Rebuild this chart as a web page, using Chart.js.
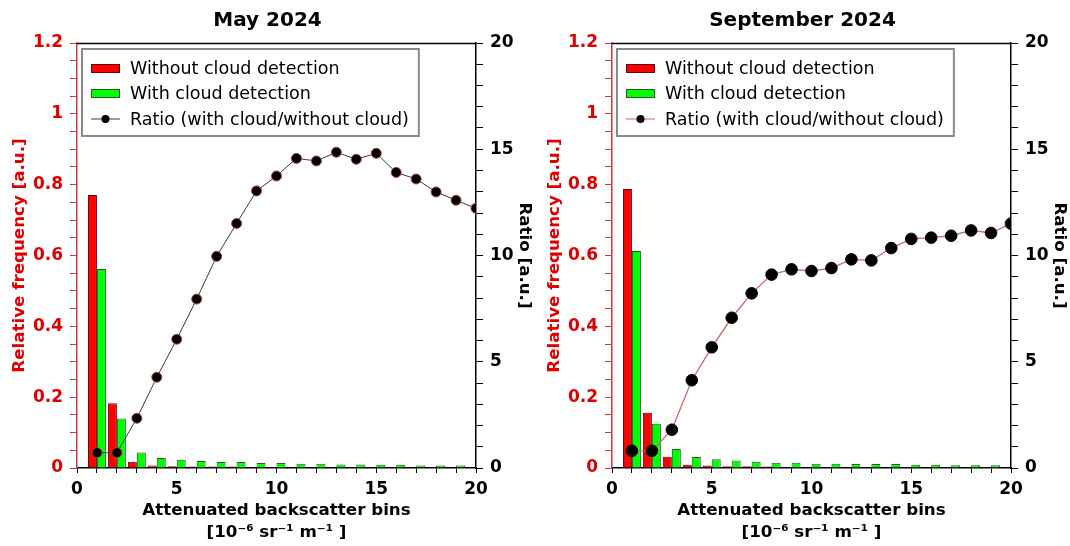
<!DOCTYPE html>
<html>
<head>
<meta charset="utf-8">
<script src="https://cdn.jsdelivr.net/npm/chart.js@4"></script>
<style>
  body { margin: 0; background: #fff; }
  .wrap { position: absolute; top: 0; width: 535px; height: 546px; }
</style>
</head>
<body>
<div class="wrap" style="left:0"><canvas id="mayChart" width="535" height="546"></canvas></div>
<div class="wrap" style="left:535px"><canvas id="sepChart" width="535" height="546"></canvas></div>
<script>
// bins of attenuated backscatter (10^-6 sr^-1 m^-1)
const bins = [1, 2, 3, 4, 5, 6, 7, 8, 9, 10, 11, 12, 13, 14, 15, 16, 17, 18, 19, 20];

// May 2024
const mayWithout = [0.771, 0.183, 0.018, 0.007, 0.005, 0.004, 0.004, 0.004, 0.002, 0.002,
                    0.002, 0.002, 0.002, 0.002, 0.002, 0.002, 0.002, 0.002, 0.002, 0.002];
const mayWith = [0.562, 0.140, 0.044, 0.028, 0.023, 0.020, 0.017, 0.017, 0.014, 0.014,
                 0.012, 0.012, 0.010, 0.010, 0.009, 0.009, 0.007, 0.007, 0.007, 0.007];
const mayRatio = [0.72, 0.72, 2.34, 4.27, 6.06, 7.95, 9.96, 11.51, 13.04, 13.74,
                  14.57, 14.45, 14.86, 14.53, 14.81, 13.91, 13.6, 12.99, 12.6, 12.22];

// September 2024
const sepWithout = [0.788, 0.156, 0.032, 0.009, 0.007, 0.005, 0.005, 0.004, 0.002, 0.002,
                    0.002, 0.002, 0.002, 0.002, 0.002, 0.002, 0.002, 0.002, 0.002, 0.002];
const sepWith = [0.613, 0.125, 0.054, 0.031, 0.025, 0.021, 0.018, 0.015, 0.015, 0.012,
                 0.012, 0.011, 0.011, 0.011, 0.009, 0.009, 0.008, 0.008, 0.008, 0.007];
const sepRatio = [0.81, 0.81, 1.8, 4.13, 5.68, 7.07, 8.22, 9.1, 9.35, 9.27,
                  9.41, 9.82, 9.77, 10.35, 10.78, 10.84, 10.93, 11.18, 11.06, 11.5];

const leftTickLabels = ['0', '0.2', '0.4', '0.6', '0.8', '1', '1.2'];
const rightTickLabels = ['0', '5', '10', '15', '20'];

Chart.defaults.font.family = "'DejaVu Sans', Verdana, sans-serif";
Chart.defaults.animation = false;

// legend box inside the plot + top frame line
const boxLegend = {
  id: 'boxLegend',
  afterDraw(chart) {
    const ctx = chart.ctx;
    const a = chart.chartArea;
    ctx.save();
    ctx.strokeStyle = '#000';
    ctx.lineWidth = 1.5;
    ctx.beginPath();
    ctx.moveTo(a.left, a.top + 0.5);
    ctx.lineTo(a.right, a.top + 0.5);
    ctx.stroke();

    const sets = chart.data.datasets;
    ctx.font = '17.5px "DejaVu Sans"';
    let maxW = 0;
    sets.forEach(d => { maxW = Math.max(maxW, ctx.measureText(d.label).width); });
    const bx = a.left + 5, by = a.top + 6;
    const textX = a.left + 53;
    const bw = textX + maxW + 10 - bx;
    const bh = 87;
    ctx.fillStyle = '#fff';
    ctx.fillRect(bx, by, bw, bh);
    ctx.strokeStyle = '#8a8a8a';
    ctx.lineWidth = 2;
    ctx.strokeRect(bx, by, bw, bh);

    const rows = [25, 50, 76];
    sets.forEach((d, i) => {
      const cy = a.top + rows[i];
      const sx = a.left + 14;
      if (d.type === 'line') {
        ctx.strokeStyle = d.borderColor;
        ctx.lineWidth = 1;
        ctx.beginPath();
        ctx.moveTo(sx, cy);
        ctx.lineTo(sx + 29, cy);
        ctx.stroke();
        ctx.fillStyle = '#000';
        ctx.beginPath();
        ctx.arc(sx + 14.5, cy, 4, 0, Math.PI * 2);
        ctx.fill();
      } else {
        ctx.fillStyle = d.backgroundColor;
        ctx.fillRect(sx, cy - 4, 29, 9);
        ctx.strokeStyle = d.borderColor;
        ctx.lineWidth = 1;
        ctx.strokeRect(sx + 0.5, cy - 3.5, 28, 8);
      }
      ctx.fillStyle = '#000';
      ctx.textBaseline = 'middle';
      ctx.textAlign = 'left';
      ctx.fillText(d.label, textX, cy + 1);
    });
    ctx.restore();
  }
};

function pairs(vals) {
  return bins.map((b, i) => ({ x: b, y: vals[i] }));
}

function makeChart(id, title, without, withCloud, ratio, look) {
  return new Chart(document.getElementById(id), {
    type: 'bar',
    data: {
      datasets: [
        {
          label: 'Without cloud detection',
          data: pairs(without),
          backgroundColor: '#ff0000',
          borderColor: '#5a0a0a',
          borderWidth: 1,
          yAxisID: 'y',
          order: 1,
          categoryPercentage: 0.9,
          barPercentage: 1
        },
        {
          label: 'With cloud detection',
          data: pairs(withCloud),
          backgroundColor: '#00ff00',
          borderColor: '#1f5f1f',
          borderWidth: 1,
          yAxisID: 'y',
          order: 2,
          categoryPercentage: 0.9,
          barPercentage: 1
        },
        {
          type: 'line',
          label: 'Ratio (with cloud/without cloud)',
          data: pairs(ratio),
          yAxisID: 'y1',
          order: 0,
          borderColor: look.line,
          borderWidth: look.lineWidth,
          pointRadius: look.radius,
          pointBackgroundColor: '#000',
          pointBorderColor: look.pointBorder,
          pointBorderWidth: 1,
          tension: 0
        }
      ]
    },
    options: {
      responsive: false,
      layout: { padding: 0 },
      plugins: {
        legend: { display: false },
        tooltip: { enabled: false },
        title: {
          display: true,
          text: title,
          color: '#000',
          font: { size: 20, weight: 'bold' },
          padding: { top: 9, bottom: 10 }
        }
      },
      scales: {
        x: {
          type: 'linear',
          min: 0,
          max: 20,
          offset: false,
          grid: { drawOnChartArea: false, offset: false, tickLength: 5, color: '#000' },
          border: { color: '#000', width: 1.5 },
          ticks: {
            stepSize: 1,
            autoSkip: false,
            maxRotation: 0,
            color: '#000',
            padding: 6,
            font: { size: 17, weight: 'bold' },
            callback: v => (v % 5 === 0 ? String(v) : '')
          },
          title: {
            display: true,
            text: ['Attenuated backscatter bins', '[10\u207B\u2076 sr\u207B\u00B9 m\u207B\u00B9 ]'],
            color: '#000',
            font: { size: 16.7, weight: 'bold', lineHeight: 1.32 },
            padding: { top: 0, bottom: 2 }
          },
          afterFit: s => { s.height = 78; }
        },
        y: {
          position: 'left',
          min: 0,
          max: 1.2,
          grid: { drawOnChartArea: false, tickLength: 7, color: '#cc3b3b' },
          border: { color: '#cc3b3b', width: 1.5 },
          ticks: {
            stepSize: 0.05,
            autoSkip: false,
            color: '#e00000',
            padding: 7,
            font: { size: 17, weight: 'bold' },
            callback: v => {
              const k = Math.round(v * 100);
              return k % 20 === 0 ? leftTickLabels[k / 20] : '';
            }
          },
          title: {
            display: true,
            text: 'Relative frequency [a.u.]',
            color: '#e00000',
            font: { size: 16.7, weight: 'bold' },
            padding: { top: 10, bottom: 0 }
          },
          afterFit: s => { s.width = 77; }
        },
        y1: {
          position: 'right',
          min: 0,
          max: 20,
          grid: { drawOnChartArea: false, tickLength: 7, color: '#000' },
          border: { color: '#000', width: 1.5 },
          ticks: {
            stepSize: 1,
            autoSkip: false,
            color: '#000',
            padding: 7,
            font: { size: 17, weight: 'bold' },
            callback: v => (v % 5 === 0 ? rightTickLabels[v / 5] : '')
          },
          title: {
            display: true,
            text: 'Ratio [a.u.]',
            color: '#000',
            font: { size: 16.7, weight: 'bold' },
            padding: { top: 1, bottom: 0 }
          },
          afterFit: s => { s.width = 59; }
        }
      }
    },
    plugins: [boxLegend]
  });
}

makeChart('mayChart', 'May 2024', mayWithout, mayWith, mayRatio,
  { line: '#3a3a3a', lineWidth: 1, radius: 5, pointBorder: '#b04040' });
makeChart('sepChart', 'September 2024', sepWithout, sepWith, sepRatio,
  { line: '#c86a6a', lineWidth: 1.3, radius: 5.8, pointBorder: '#000' });
</script>
</body>
</html>
